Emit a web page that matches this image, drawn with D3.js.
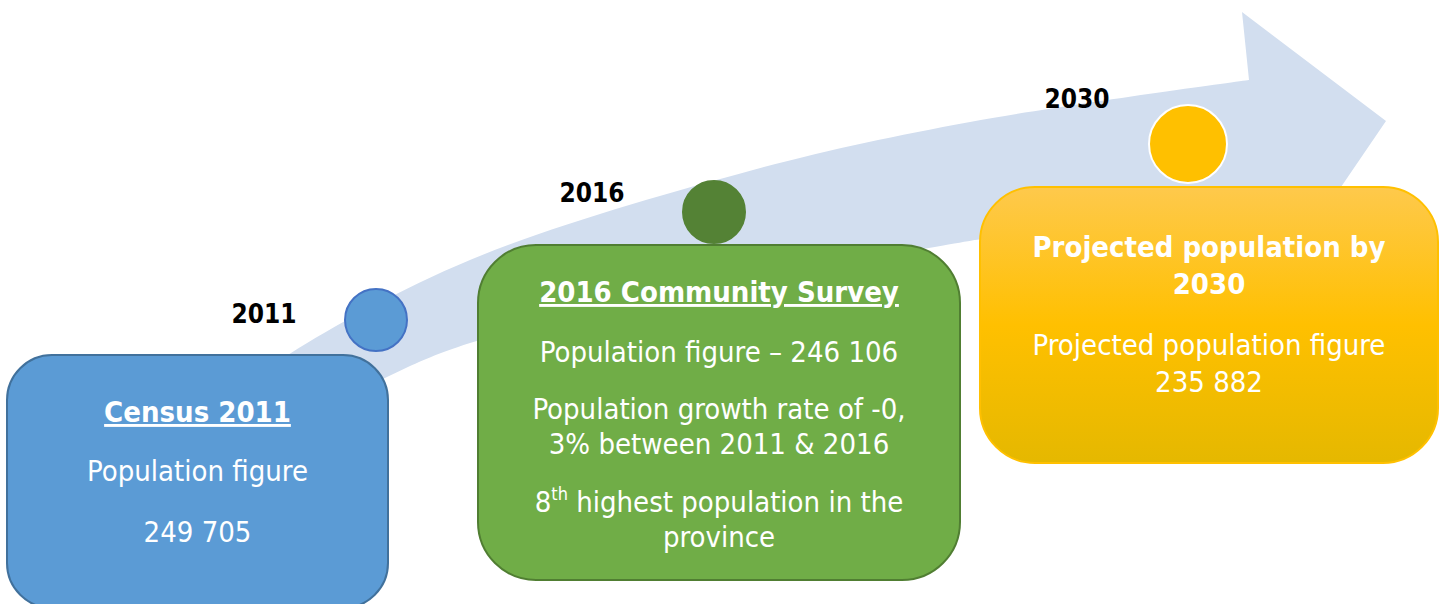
<!DOCTYPE html>
<html>
<head>
<meta charset="utf-8">
<script src="https://cdn.jsdelivr.net/npm/d3@7"></script>
<style>
  body { margin: 0; background: #fff; }
  svg { display: block; font-family: "DejaVu Sans Condensed", "DejaVu Sans", sans-serif; font-stretch: condensed; }
</style>
</head>
<body>
<div id="chart"></div>
<script>
//data
const years = ["2011", "2016", "2030"];
const titles = [["Census 2011"], ["2016 Community Survey"], ["Projected population by", "2030"]];
const underlined = [true, true, false];
const populations = [249705, 246106, 235882];
const growthRate = "-0, 3%";
const provinceRank = 8;

//number format with space as thousands separator
const fmt = d3.formatLocale({ decimal: ",", thousands: " ", grouping: [3], currency: ["", ""] }).format(",");

//paragraphs of each card (each paragraph = list of lines)
const bodies = [
  [["Population figure"], [fmt(populations[0])]],
  [
    ["Population figure \u2013 " + fmt(populations[1])],
    ["Population growth rate of " + growthRate.split(" ")[0], growthRate.split(" ")[1] + " between " + years[0] + " & " + years[1]],
    [{ sup: provinceRank, rest: " highest population in the" }, "province"],
  ],
  [["Projected population figure", fmt(populations[2])]],
];

//size
const width = 1446;
const height = 604;

//layout of the cards
const layout = [
  { x: 7, y: 355, w: 381, h: 253, r: 45, cx: 376, cy: 320, cr: 31, lx: 264, ly: 323, ty: 422, fill: "#5B9BD5", stroke: "#41719C", dot: "#5B9BD5", dotStroke: "#4472C4", lines: [481, 542] },
  { x: 478, y: 245, w: 482, h: 335, r: 58, cx: 714, cy: 212, cr: 31, lx: 592, ly: 202, ty: 302, fill: "#70AD47", stroke: "#507E32", dot: "#548235", dotStroke: "#548235", lines: [362, 419, 454, 512, 547] },
  { x: 980, y: 187, w: 458, h: 276, r: 55, cx: 1188, cy: 144, cr: 39, lx: 1077, ly: 108, ty: 257, fill: "url(#gold)", stroke: "#FFC000", dot: "#FFC000", dotStroke: "#ffffff", lines: [355, 392] },
];

//arrow outline (decoration)
const arrowTop = [[250, 385], [291, 353], [470, 260], [753, 170], [970, 122], [1249, 80]];
const arrowHead = [[1242, 12], [1386, 121], [1281, 275], [1262, 207]];
const arrowBottom = [[975, 240], [700, 290], [470, 343], [387, 377], [320, 415]];

const svg = d3.select("#chart")
  .append("svg")
  .attr("width", width)
  .attr("height", height);

const grad = svg.append("defs")
  .append("linearGradient")
  .attr("id", "gold")
  .attr("x1", 0).attr("y1", 0).attr("x2", 0).attr("y2", 1);
grad.append("stop").attr("offset", "0%").attr("stop-color", "#FEC94C");
grad.append("stop").attr("offset", "50%").attr("stop-color", "#FFC000");
grad.append("stop").attr("offset", "100%").attr("stop-color", "#E5B800");

//arrow
const line = d3.line().curve(d3.curveCatmullRom.alpha(0.5));
const arrowPath = line(arrowTop)
  + arrowHead.map((p) => "L" + p.join(",")).join("")
  + line(arrowBottom).replace(/^M/, "L")
  + "Z";

svg.append("path")
  .attr("d", arrowPath)
  .attr("fill", "#D2DEEF");

//one object per stage
const stages = d3.range(years.length).map((i) => ({
  year: years[i],
  title: titles[i],
  under: underlined[i],
  body: bodies[i],
  ...layout[i],
}));

//dots + year labels
svg.selectAll("circle.dot")
  .data(stages)
  .join("circle")
  .attr("class", "dot")
  .attr("cx", (d) => d.cx)
  .attr("cy", (d) => d.cy)
  .attr("r", (d) => d.cr)
  .attr("fill", (d) => d.dot)
  .attr("stroke", (d) => d.dotStroke)
  .attr("stroke-width", 2);

svg.selectAll("text.year")
  .data(stages)
  .join("text")
  .attr("class", "year")
  .attr("x", (d) => d.lx)
  .attr("y", (d) => d.ly)
  .attr("text-anchor", "middle")
  .attr("font-weight", "bold")
  .attr("font-size", 26)
  .attr("fill", "#000")
  .text((d) => d.year);

//cards
const card = svg.selectAll("g.card")
  .data(stages)
  .join("g")
  .attr("class", "card");

card.append("rect")
  .attr("x", (d) => d.x)
  .attr("y", (d) => d.y)
  .attr("width", (d) => d.w)
  .attr("height", (d) => d.h)
  .attr("rx", (d) => d.r)
  .attr("fill", (d) => d.fill)
  .attr("stroke", (d) => d.stroke)
  .attr("stroke-width", 2);

card.each(function (d) {
  const g = d3.select(this);
  const mid = d.x + d.w / 2;

  g.selectAll("text.title")
    .data(d.title)
    .join("text")
    .attr("class", "title")
    .attr("x", mid)
    .attr("y", (t, i) => d.ty + i * 37)
    .attr("text-anchor", "middle")
    .attr("font-weight", "bold")
    .attr("font-size", 29)
    .attr("fill", "#fff")
    .style("text-decoration", d.under ? "underline" : "none")
    .text((t) => t);

  g.selectAll("text.body")
    .data(d.body.flat())
    .join("text")
    .attr("class", "body")
    .attr("x", mid)
    .attr("y", (t, i) => d.lines[i])
    .attr("text-anchor", "middle")
    .attr("font-size", 29)
    .attr("fill", "#fff")
    .each(function (t) {
      const el = d3.select(this);
      if (typeof t === "string") {
        el.text(t);
      } else {
        el.append("tspan").text(t.sup);
        el.append("tspan").attr("font-size", 18).attr("dy", -12).text("th");
        el.append("tspan").attr("dy", 12).text(t.rest);
      }
    });
});
</script>
</body>
</html>
